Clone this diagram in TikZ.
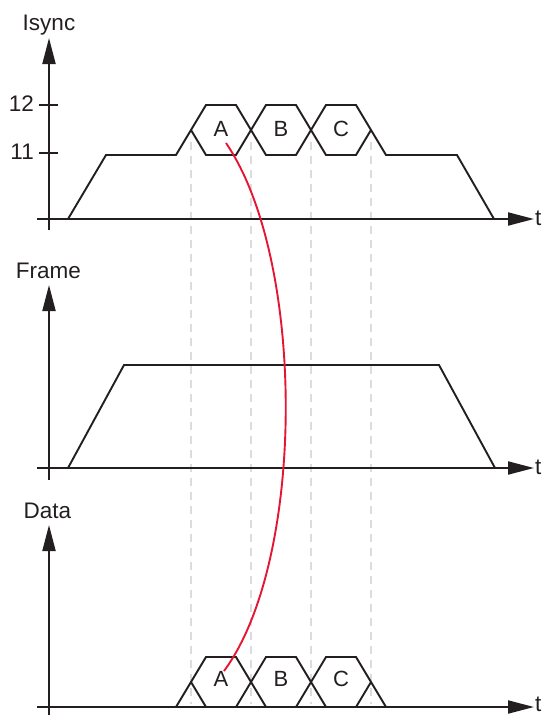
\documentclass[tikz,border=0pt]{standalone}
\usepackage{fontspec}
\setmainfont{Liberation Sans}
\usetikzlibrary{arrows.meta}
\definecolor{ink}{RGB}{35,31,32}
\definecolor{redline}{RGB}{228,22,52}
\definecolor{dashgray}{RGB}{220,220,220}
\tikzset{
  wave/.style={draw=ink, line width=1.9pt, line join=miter},
  axis/.style={draw=ink, line width=1.9pt, -{Triangle[length=26pt,width=13pt]}},
  tickline/.style={draw=ink, line width=1.9pt},
  guide/.style={draw=dashgray, line width=1.9pt, dash pattern=on 8pt off 6pt},
  lab/.style={text=ink, font=\fontsize{22.5}{26}\selectfont, inner sep=0pt},
  hexlab/.style={text=ink, font=\fontsize{22}{26}\selectfont, inner sep=0pt},
  link/.style={draw=redline, line width=1.9pt}
}
\begin{document}
\begin{tikzpicture}[x=1pt,y=-1pt]
\useasboundingbox (0,0) rectangle (552,715);

% guide lines
\foreach \gx in {191,251,311,371}{
  \draw[guide] (\gx,142) -- (\gx,704);
}

% ===== Isync panel =====
\draw[axis] (49,230) -- (49,38);
\draw[axis] (37,219) -- (534,219);
\node[lab, anchor=base] (isync) at (49,30) {Isync};
\node[lab, anchor=base west] (t1) at (535,225) {t};
\draw[tickline] (39,105) -- (58,105);
\draw[tickline] (39,153) -- (58,153);
\node[lab, anchor=east] (l12) at (34,104) {12};
\node[lab, anchor=east] (l11) at (34,152) {11};
\draw[wave] (68,219) -- (106,155) -- (176,155) -- (206,105) -- (236,105) -- (266,155) -- (296,155) -- (326,105) -- (356,105) -- (386,155) -- (457,155) -- (494,219);
\draw[wave] (191,130) -- (206,155) -- (236,155) -- (266,105) -- (296,105) -- (326,155) -- (356,155) -- (371,130);
\node[hexlab] (A1) at (221,129) {A};
\node[hexlab] (B1) at (281,129) {B};
\node[hexlab] (C1) at (341,129) {C};

% ===== Frame panel =====
\draw[axis] (49,480) -- (49,285);
\draw[axis] (37,468) -- (534,468);
\node[lab, anchor=base] (frame) at (48.5,278) {Frame};
\node[lab, anchor=base west] (t2) at (535,474) {t};
\draw[wave] (68,468) -- (124,365) -- (439,365) -- (495,468);

% ===== Data panel =====
\draw[axis] (49,715) -- (49,525);
\draw[axis] (37,707) -- (534,707);
\node[lab, anchor=base] (data) at (47.5,518) {Data};
\node[lab, anchor=base west] (t3) at (535,711) {t};
\draw[wave] (176,707) -- (206,657) -- (236,657) -- (266,707) -- (296,707) -- (326,657) -- (356,657) -- (386,707);
\draw[wave] (191,682) -- (206,707) -- (236,707) -- (266,657) -- (296,657) -- (326,707) -- (356,707) -- (371,682);
\node[hexlab] (A2) at (221,679) {A};
\node[hexlab] (B2) at (281,679) {B};
\node[hexlab] (C2) at (341,679) {C};

% ===== red link =====
\coordinate (rs) at (226,143);
\coordinate (re) at (224,671);
\draw[link] (rs) .. controls (306,260) and (306,560) .. (re);
\end{tikzpicture}
\end{document}
